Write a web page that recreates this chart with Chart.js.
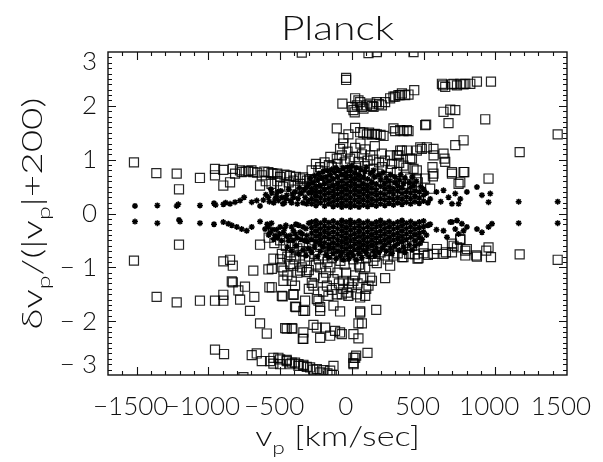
<!DOCTYPE html>
<html>
<head>
<meta charset="utf-8">
<script src="https://cdn.jsdelivr.net/npm/chart.js@4.4.0/dist/chart.umd.min.js"></script>
<style>
  html, body { margin: 0; padding: 0; background: #fff; }
  #lienzo { display: block; }
</style>
</head>
<body>
<canvas id="lienzo" width="603" height="462"></canvas>
<script>
// --- Ejes y etiquetas ---
const rangoX = [-1700, 1500];
const rangoY = [-3, 3];
const etiquetasX = [-1500, -1000, -500, 0, 500, 1000, 1500];
const etiquetasY = [-3, -2, -1, 0, 1, 2, 3];
const pasoMenorX = 100;
const pasoMenorY = 0.1;

// --- Asteriscos: banda superior (x = v_p, y = delta) ---
const asteriscosSuperior = [
  [-1512,0.14],[-1356,0.15],[-1221,0.14],[-1210,0.17],[-1059,0.15],[-961,0.19],[-950,0.16],[-896,0.17],
  [-880,0.20],[-849,0.18],[-814,0.21],[-779,0.24],[-751,0.30],[-698,0.21],[-663,0.24],[-640,0.14],
  [-617,0.25],[-600,0.35],[-582,0.30],[-575,0.22],[-565,0.45],[-558,0.38],[-545,0.20],[-535,0.27],
  [-525,0.32],[-520,0.40],[-512,0.24],[-495,0.42],[-488,0.30],[-480,0.18],[-470,0.20],[-460,0.28],
  [-454,0.34],[-440,0.45],[-430,0.24],[-420,0.20],[-415,0.36],[-407,0.30],[-395,0.40],[-380,0.18],
  [-375,0.28],[-365,0.48],[-361,0.37],[-350,0.38],[-340,0.20],[-330,0.45],[-326,0.30],[-315,0.18],
  [-310,0.50],[-303,0.24],[-300,0.38],
  [-280,0.18],[-280,0.28],[-280,0.38],[-280,0.46],
  [-250,0.15],[-250,0.24],[-250,0.33],[-250,0.42],[-250,0.50],
  [-220,0.20],[-220,0.30],[-220,0.40],[-220,0.52],
  [-190,0.14],[-190,0.25],[-190,0.35],[-190,0.45],[-190,0.56],
  [-160,0.18],[-160,0.28],[-160,0.38],[-160,0.48],[-160,0.60],
  [-130,0.13],[-130,0.22],[-130,0.32],[-130,0.42],[-130,0.52],[-130,0.64],
  [-100,0.16],[-100,0.26],[-100,0.36],[-100,0.46],[-100,0.56],[-100,0.68],
  [-70,0.12],[-70,0.20],[-70,0.30],[-70,0.40],[-70,0.50],[-70,0.60],[-70,0.72],
  [-40,0.15],[-40,0.25],[-40,0.35],[-40,0.45],[-40,0.55],[-40,0.66],[-40,0.76],
  [-10,0.12],[-10,0.20],[-10,0.30],[-10,0.40],[-10,0.50],[-10,0.60],[-10,0.70],[-10,0.80],
  [20,0.15],[20,0.25],[20,0.35],[20,0.45],[20,0.55],[20,0.65],[20,0.75],
  [50,0.12],[50,0.21],[50,0.31],[50,0.41],[50,0.51],[50,0.62],[50,0.72],
  [80,0.16],[80,0.26],[80,0.36],[80,0.46],[80,0.56],[80,0.68],
  [110,0.13],[110,0.22],[110,0.32],[110,0.42],[110,0.52],[110,0.64],
  [140,0.17],[140,0.27],[140,0.37],[140,0.47],[140,0.58],
  [170,0.14],[170,0.24],[170,0.34],[170,0.44],[170,0.55],
  [200,0.18],[200,0.28],[200,0.38],[200,0.50],
  [230,0.15],[230,0.25],[230,0.35],[230,0.46],[230,0.56],
  [260,0.19],[260,0.29],[260,0.40],[260,0.50],
  [290,0.16],[290,0.26],[290,0.36],[290,0.46],
  [320,0.20],[320,0.30],[320,0.42],[320,0.52],
  [350,0.17],[350,0.27],[350,0.37],[350,0.47],
  [380,0.21],[380,0.31],[380,0.41],
  [410,0.18],[410,0.28],[410,0.38],[410,0.48],
  [440,0.22],[440,0.32],[440,0.42],
  [470,0.19],[470,0.29],[470,0.40],
  [500,0.23],[500,0.34],
  [-300,0.55],[-290,0.65],[-270,0.58],[-260,0.70],[-240,0.62],[-230,0.74],[-210,0.66],[-200,0.78],
  [-180,0.68],[-170,0.80],[-150,0.72],[-140,0.82],[-120,0.76],[-110,0.85],[-90,0.80],[-60,0.84],
  [-30,0.86],[0,0.88],[30,0.85],[60,0.82],[90,0.78],[100,0.86],[130,0.74],[150,0.80],[160,0.68],
  [190,0.72],[200,0.62],[220,0.76],[240,0.66],[260,0.60],[270,0.72],[300,0.58],[300,0.68],
  [330,0.62],[340,0.72],[360,0.56],[370,0.66],[400,0.58],[420,0.68],[430,0.52],[450,0.60],
  [480,0.50],[500,0.45],[520,0.38],[530,0.20],
  [546,0.27],[590,0.40],[620,0.22],[639,0.43],[674,0.30],[698,0.18],[721,0.37],[744,0.18],
  [756,0.27],[802,0.40],[872,0.49],[907,0.34],[953,0.21],[965,0.37],[1163,0.22],[1435,0.22]
];

// --- Asteriscos: banda inferior ---
const asteriscosInferior = [
  [-1512,-0.15],[-1356,-0.18],[-1198,-0.15],[-1205,-0.12],[-1059,-0.18],[-961,-0.20],[-896,-0.16],
  [-861,-0.19],[-837,-0.22],[-802,-0.25],[-768,-0.29],[-733,-0.32],[-698,-0.25],[-640,-0.15],
  [-605,-0.29],[-590,-0.20],[-580,-0.25],[-580,-0.40],[-570,-0.35],[-560,-0.18],[-550,-0.30],
  [-545,-0.48],[-535,-0.41],[-525,-0.30],[-520,-0.45],[-505,-0.38],[-500,-0.25],[-490,-0.50],
  [-477,-0.35],[-470,-0.28],[-460,-0.22],[-455,-0.42],[-440,-0.50],[-430,-0.41],[-420,-0.25],
  [-410,-0.50],[-407,-0.32],[-395,-0.38],[-390,-0.20],[-380,-0.45],[-370,-0.22],[-361,-0.35],
  [-355,-0.48],[-345,-0.38],[-340,-0.25],[-330,-0.50],[-320,-0.28],[-314,-0.41],[-310,-0.52],
  [-300,-0.18],
  [-280,-0.16],[-280,-0.26],[-280,-0.36],[-280,-0.48],
  [-250,-0.14],[-250,-0.22],[-250,-0.32],[-250,-0.42],[-250,-0.52],
  [-220,-0.18],[-220,-0.28],[-220,-0.38],[-220,-0.48],[-220,-0.58],
  [-190,-0.13],[-190,-0.23],[-190,-0.33],[-190,-0.43],[-190,-0.54],
  [-160,-0.17],[-160,-0.27],[-160,-0.37],[-160,-0.47],[-160,-0.58],[-160,-0.66],
  [-130,-0.14],[-130,-0.24],[-130,-0.34],[-130,-0.44],[-130,-0.54],[-130,-0.64],
  [-100,-0.18],[-100,-0.28],[-100,-0.38],[-100,-0.48],[-100,-0.58],[-100,-0.70],
  [-70,-0.13],[-70,-0.22],[-70,-0.32],[-70,-0.42],[-70,-0.52],[-70,-0.62],[-70,-0.72],
  [-40,-0.16],[-40,-0.26],[-40,-0.36],[-40,-0.46],[-40,-0.56],[-40,-0.66],
  [-10,-0.13],[-10,-0.21],[-10,-0.31],[-10,-0.41],[-10,-0.51],[-10,-0.61],[-10,-0.72],
  [20,-0.17],[20,-0.27],[20,-0.37],[20,-0.47],[20,-0.57],[20,-0.67],
  [50,-0.14],[50,-0.23],[50,-0.33],[50,-0.43],[50,-0.53],[50,-0.63],
  [80,-0.18],[80,-0.28],[80,-0.38],[80,-0.48],[80,-0.58],[80,-0.68],
  [110,-0.15],[110,-0.24],[110,-0.34],[110,-0.44],[110,-0.54],[110,-0.62],
  [140,-0.19],[140,-0.29],[140,-0.39],[140,-0.49],[140,-0.59],
  [170,-0.16],[170,-0.25],[170,-0.35],[170,-0.45],[170,-0.55],[170,-0.64],
  [200,-0.13],[200,-0.22],[200,-0.32],[200,-0.42],[200,-0.52],
  [230,-0.18],[230,-0.28],[230,-0.38],[230,-0.48],[230,-0.58],
  [260,-0.15],[260,-0.24],[260,-0.34],[260,-0.44],[260,-0.54],
  [290,-0.19],[290,-0.29],[290,-0.39],[290,-0.49],
  [320,-0.16],[320,-0.26],[320,-0.36],[320,-0.46],[320,-0.56],
  [350,-0.13],[350,-0.22],[350,-0.32],[350,-0.42],[350,-0.52],
  [380,-0.18],[380,-0.28],[380,-0.38],[380,-0.48],
  [410,-0.15],[410,-0.24],[410,-0.34],[410,-0.44],
  [440,-0.19],[440,-0.29],[440,-0.39],[440,-0.50],
  [470,-0.16],[470,-0.26],[470,-0.36],[470,-0.45],
  [500,-0.14],[500,-0.24],[500,-0.34],
  [-450,-0.62],[-420,-0.70],[-390,-0.60],[-370,-0.75],[-340,-0.68],[-320,-0.78],[-300,-0.65],
  [-280,-0.72],[-260,-0.62],[-240,-0.80],[-220,-0.70],[-200,-0.62],[-180,-0.76],[-160,-0.82],
  [-130,-0.74],[-110,-0.84],[-80,-0.78],[-60,-0.86],[-30,-0.76],[-20,-0.84],[10,-0.78],[30,-0.86],
  [50,-0.74],[70,-0.82],[100,-0.72],[120,-0.80],[150,-0.70],[160,-0.78],[190,-0.72],[210,-0.64],
  [240,-0.70],[270,-0.64],[280,-0.74],[300,-0.60],[330,-0.68],[360,-0.62],[370,-0.72],[400,-0.58],
  [420,-0.68],[440,-0.60],[470,-0.56],[490,-0.48],[520,-0.40],[530,-0.22],
  [546,-0.20],[590,-0.30],[639,-0.32],[663,-0.44],[686,-0.16],[698,-0.16],[721,-0.29],[733,-0.13],
  [744,-0.38],[767,-0.19],[779,-0.32],[802,-0.25],[872,-0.29],[907,-0.35],[953,-0.25],[977,-0.19],
  [1163,-0.18],[1435,-0.18]
];

// --- Cuadrados: parte superior (y > 0) ---
const cuadradosSuperior = [
  [-1519,0.95],[-1363,0.75],[-1221,0.74],[-1205,0.45],[-1059,0.66],[-954,0.83],[-954,0.71],[-896,0.81],
  [-896,0.52],[-849,0.58],[-830,0.83],[-814,0.74],[-780,0.80],[-768,0.77],[-740,0.78],[-722,0.79],
  [-700,0.80],[-687,0.77],[-660,0.76],[-640,0.52],[-628,0.71],[-610,0.78],[-600,0.60],[-582,0.77],
  [-560,0.75],[-560,0.55],[-547,0.74],[-520,0.74],[-520,0.60],[-500,0.68],[-500,0.52],[-480,0.50],
  [-470,0.72],[-454,0.71],[-440,0.58],[-430,0.70],[-407,0.61],[-400,0.52],[-390,0.68],[-361,0.65],
  [-360,0.55],[-340,0.67],[-330,0.48],[-314,0.61],[-290,0.64],[-280,0.80],[-280,0.50],[-260,0.62],
  [-250,0.92],[-250,0.30],[-240,0.45],[-233,0.80],[-230,0.60],[-221,0.86],[-200,0.70],[-200,0.55],
  [-190,0.95],[-170,0.62],[-160,0.90],[-160,0.50],[-150,1.05],[-150,0.30],[-140,0.86],[-120,0.75],
  [-120,0.58],[-105,1.02],[-100,0.92],[-90,0.45],[-82,1.20],[-80,0.68],[-70,1.08],[-60,1.30],
  [-60,0.55],[-50,0.95],[-50,0.35],[-40,0.80],[-30,1.15],[-30,0.62],[-12,1.02],[0,0.72],[0,0.50],
  [20,1.05],[23,1.22],[30,0.85],[30,0.58],[46,0.96],[50,0.35],[60,0.76],[60,1.30],[60,0.45],
  [70,1.10],[90,0.88],[93,1.19],[100,0.55],[110,0.98],[120,0.70],[128,1.08],[130,0.48],[150,0.82],
  [150,1.00],[150,0.30],[160,1.25],[170,0.60],[180,0.74],[190,0.95],[200,0.45],[209,1.11],[210,0.86],
  [230,0.98],[240,0.68],[250,0.55],[250,0.35],[267,1.08],[270,0.80],[280,0.92],[300,0.50],[314,0.77],
  [314,1.08],[325,1.08],[330,0.94],[337,1.17],[340,0.60],[349,1.17],[350,0.30],[360,0.89],[380,0.85],
  [380,0.55],[384,1.17],[407,0.65],[407,1.02],[419,1.02],[420,0.50],[430,0.83],[453,0.65],[453,0.80],
  [453,1.17],[460,0.58],[477,1.23],[488,1.20],[511,0.65],[523,1.23],[546,0.46],[562,0.86],[565,0.69],
  [569,0.74],[569,1.20],[570,1.08],[639,1.11],[646,1.02],[651,0.96],[698,0.74],[698,0.77],[721,1.27],
  [744,0.55],[756,0.58],[779,0.77],[779,1.36],[784,0.77],[953,0.65],[1170,1.14],[1435,1.47],
  [-105,1.58],[-59,1.40],[-24,1.47],[23,1.59],[58,1.51],[80,1.50],[105,1.47],[120,1.50],[140,1.47],
  [160,1.48],[174,1.47],[200,1.46],[221,1.44],[290,1.58],[302,1.53],[337,1.55],[360,1.53],[384,1.55],
  [395,1.53],[511,1.64],[518,1.65],[674,1.68],[930,1.75],
  [-66,2.04],[0,1.98],[11,1.92],[20,1.88],[23,2.14],[35,2.01],[46,2.10],[58,2.07],[70,1.98],[81,1.95],
  [105,2.01],[128,2.04],[140,2.00],[151,1.98],[174,2.07],[190,2.03],[209,2.01],[232,2.07],[267,2.14],
  [290,2.17],[302,2.17],[325,2.20],[337,2.20],[349,2.23],[372,2.20],[395,2.21],[435,2.29],[639,1.89],
  [686,1.93],[721,1.92],
  [-40,2.52],[-40,2.48],[628,2.41],[635,2.38],[651,2.35],[698,2.40],[709,2.41],[733,2.38],[756,2.41],
  [779,2.40],[791,2.41],[826,2.41],[872,2.45],[970,2.45],
  [-349,2.99],[116,2.98],[174,3.0],[430,3.0]
];

// --- Cuadrados: parte inferior (y < 0) ---
const cuadradosInferior = [
  [-1519,-0.875],[-1205,-0.58],[-640,-0.58],[-896,-0.89],[-849,-0.86],[-830,-0.97],[-687,-1.06],
  [-582,-1.04],[-547,-0.84],[-500,-0.85],[-488,-0.75],[-430,-0.72],[-488,-1.0],[-407,-0.97],
  [-361,-0.78],[-326,-0.875],[-477,-1.25],[-419,-1.25],[-361,-1.06],[-314,-1.09],
  [-1361,-1.55],[-1221,-1.65],[-1059,-1.62],[-954,-1.62],[-896,-1.62],[-896,-1.51],[-837,-1.26],
  [-830,-1.28],[-791,-1.43],[-779,-1.60],[-745,-1.36],[-680,-1.55],[-575,-1.37],[-482,-1.54],
  [-407,-1.51],[-396,-1.73],[-326,-1.81],[-710,-1.81],[-640,-2.04],[-593,-2.23],[-454,-2.14],
  [-414,-2.14],[-338,-2.33],
  [-954,-2.53],[-891,-2.61],[-698,-2.63],[-663,-2.60],[-628,-2.74],[-570,-2.74],[-547,-2.79],
  [-512,-2.68],[-500,-2.80],[-454,-2.72],[-430,-2.80],[-396,-2.77],[-372,-2.83],[-338,-2.81],
  [-314,-2.85],[-756,-3.04],[-547,-2.68],[-500,-2.71],[-454,-2.74],[-419,-2.77],[-372,-2.80],
  [-338,-2.83],[-291,-2.86],[-270,-2.90],[-244,-2.89],[-220,-2.95],[-198,-2.91],[-170,-2.97],
  [-151,-2.92],[-140,-3.0],[-128,-2.83],
  [11,-2.68],[30,-2.64],[109,-2.59],[11,-2.78],[23,-2.68],[12,-2.80],[46,-2.32],[46,-2.04],
  [70,-2.04],[58,-1.84],[170,-1.79],[11,-2.24],[-82,-2.21],[-70,-2.24],[-117,-2.18],[-151,-2.27],
  [-221,-2.31],[-268,-2.07],[-186,-2.12],[-338,-2.21],[-342,-2.33],[-465,-2.13],[-419,-2.13],
  [-244,-2.12],
  [-488,-1.53],[-389,-1.74],[-338,-1.81],[-221,-1.81],[-128,-1.71],[-82,-1.82],[58,-1.82],
  [-221,-1.74],[-407,-1.50],[-396,-1.34],[-326,-1.62],[-279,-1.29],[-268,-1.34],[-244,-1.59],
  [-233,-1.62],[-174,-1.34],[-163,-1.53],[-128,-1.22],[-105,-1.50],[-70,-1.50],[-35,-1.47],
  [-24,-1.53],[0,-1.37],[35,-1.50],[58,-1.56],[93,-1.53],[116,-1.34],[128,-1.19],[232,-1.20],
  [267,-0.97],[174,-0.92],[23,-1.15],[58,-1.0],[93,-1.0],[140,-1.25],[-477,-1.06],[-558,-1.03],
  [-558,-1.37],[-430,-0.94],[-349,-1.0],
  [-450,-1.15],[-380,-1.10],[-300,-1.05],[-300,-1.40],[-260,-1.15],[-220,-1.00],[-200,-1.20],
  [-200,-1.45],[-180,-1.10],[-150,-1.00],[-140,-1.42],[-100,-1.10],[-90,-1.30],[-60,-1.25],
  [-60,-1.40],[-40,-1.10],[-20,-1.30],[10,-1.25],[40,-1.30],[80,-1.20],[100,-1.40],
  [-300,-0.80],[-260,-0.75],[-230,-0.85],[-200,-0.78],[-170,-0.90],[-140,-0.82],[-110,-0.76],
  [-80,-0.88],[-50,-0.80],[-20,-0.72],[10,-0.85],[40,-0.78],[70,-0.70],[100,-0.82],[130,-0.75],
  [160,-0.80],[200,-0.72],[230,-0.78],[260,-0.70],[290,-0.78],[320,-0.74],[351,-0.81],[360,-0.81],
  [400,-0.75],[440,-0.76],[458,-0.84],[465,-0.83],[500,-0.74],[530,-0.77],[570,-0.75],[593,-0.66],
  [639,-0.75],[656,-0.72],[698,-0.72],[698,-0.56],[709,-0.60],[733,-0.63],[756,-0.47],[756,-0.49],
  [791,-0.78],[791,-0.69],[802,-0.66],[867,-0.78],[872,-0.80],[937,-0.69],[953,-0.63],[970,-0.81],
  [1170,-0.76],[1435,-0.86],
  [-580,-0.45],[-540,-0.55],[-500,-0.50],[-460,-0.60],[-450,-0.80],[-420,-0.55],[-400,-0.85],
  [-380,-0.65],[-350,-0.70],[-340,-0.60],[-300,-0.55],[-260,-0.50],[-250,-0.95],[-220,-0.62],
  [-200,-0.35],[-180,-0.55],[-150,-0.70],[-140,-0.65],[-100,-0.50],[-60,-0.60],[-50,-0.95],
  [-30,-0.35],[-20,-0.55],[20,-0.62],[50,-0.95],[60,-0.50],[80,-0.35],[100,-0.60],[140,-0.52],
  [150,-0.88],[180,-0.62],[200,-0.30],[220,-0.50],[250,-0.85],[260,-0.58],[300,-0.50],[340,-0.62],
  [380,-0.55],[420,-0.60],[460,-0.50],[500,-0.62]
];

const aPuntos = pares => pares.map(p => ({ x: p[0], y: p[1] }));

// --- Fuentes (parecidas a la Hershey de IDL) ---
const fuente = (tam) => `300 ${tam}px Lato, "DejaVu Sans", sans-serif`;

// Dibuja un texto con trozos en subindice, centrado en (x, y) y estirado a lo ancho
function textoConSubindices(ctx, partes, x, y, tam, estirar) {
  const tamSub = Math.round(tam * 0.65);
  let total = 0;
  partes.forEach(([t, sub]) => {
    ctx.font = fuente(sub ? tamSub : tam);
    total += ctx.measureText(t).width;
  });
  ctx.save();
  ctx.translate(x, y);
  ctx.scale(estirar, 1);
  let cx = -total / 2;
  partes.forEach(([t, sub]) => {
    ctx.font = fuente(sub ? tamSub : tam);
    ctx.fillText(t, cx, sub ? tam * 0.28 : 0);
    cx += ctx.measureText(t).width;
  });
  ctx.restore();
}

// --- Plugin: caja con marcas hacia dentro, etiquetas y titulos ---
const pluginEjesIDL = {
  id: 'ejesIDL',
  afterDatasetsDraw(chart) {
    const { ctx, chartArea: a, scales: { x, y } } = chart;
    ctx.save();
    ctx.strokeStyle = '#111';
    ctx.lineWidth = 1.4;
    ctx.strokeRect(a.left, a.top, a.right - a.left, a.bottom - a.top);

    ctx.lineWidth = 1.1;
    ctx.beginPath();
    for (let v = rangoX[0] + pasoMenorX; v < rangoX[1]; v += pasoMenorX) {
      const px = Math.round(x.getPixelForValue(v)) + 0.5;
      const largo = v % 500 === 0 ? 8 : 4;
      ctx.moveTo(px, a.bottom); ctx.lineTo(px, a.bottom - largo);
      ctx.moveTo(px, a.top); ctx.lineTo(px, a.top + largo);
    }
    const nMenor = Math.round((rangoY[1] - rangoY[0]) / pasoMenorY);
    for (let i = 1; i < nMenor; i++) {
      const v = rangoY[0] + i * pasoMenorY;
      const py = Math.round(y.getPixelForValue(v)) + 0.5;
      const largo = i % 10 === 0 ? 8 : 4;
      ctx.moveTo(a.left, py); ctx.lineTo(a.left + largo, py);
      ctx.moveTo(a.right, py); ctx.lineTo(a.right - largo, py);
    }
    ctx.stroke();

    // etiquetas de las marcas
    ctx.fillStyle = '#111';
    ctx.font = fuente(26);
    ctx.textAlign = 'center';
    ctx.textBaseline = 'middle';
    etiquetasX.forEach(v => {
      const txt = (v < 0 ? '\u2212' : '') + Math.abs(v);
      ctx.fillText(txt, x.getPixelForValue(v) - 6, a.bottom + 32);
    });
    ctx.textAlign = 'right';
    etiquetasY.forEach(v => {
      const txt = (v < 0 ? '\u2212 ' : '') + Math.abs(v);
      let py = y.getPixelForValue(v);
      py = Math.min(Math.max(py, a.top + 10), a.bottom - 10);
      ctx.fillText(txt, a.left - 11, py);
    });

    // titulo
    ctx.textAlign = 'left';
    ctx.textBaseline = 'alphabetic';
    textoConSubindices(ctx, [['Planck', false]], (a.left + a.right) / 2, 40, 34, 1.2);

    // titulo eje X
    textoConSubindices(ctx, [['v', false], ['p', true], [' [km/sec]', false]], (a.left + a.right) / 2, 446, 27, 1.27);

    // titulo eje Y (rotado)
    ctx.translate(42, (a.top + a.bottom) / 2);
    ctx.rotate(-Math.PI / 2);
    textoConSubindices(ctx, [['\u03b4v', false], ['p', true], ['/(|v', false], ['p', true], ['|+200)', false]], 0, 0, 28, 1.38);
    ctx.restore();
  }
};

// --- Grafica ---
const ctxLienzo = document.getElementById('lienzo').getContext('2d');
const grafica = new Chart(ctxLienzo, {
  type: 'scatter',
  data: {
    datasets: [
      {
        label: 'asteriscos',
        data: aPuntos(asteriscosSuperior.concat(asteriscosInferior)),
        pointStyle: 'star',
        radius: 3,
        borderWidth: 1.5,
        borderColor: '#000',
        backgroundColor: '#000',
        clip: 0
      },
      {
        label: 'cuadrados',
        data: aPuntos(cuadradosSuperior.concat(cuadradosInferior)),
        pointStyle: 'rect',
        radius: 6.4,
        borderWidth: 1.2,
        borderColor: 'rgba(0,0,0,0.85)',
        backgroundColor: 'rgba(0,0,0,0)',
        clip: 0
      }
    ]
  },
  options: {
    responsive: false,
    animation: false,
    events: [],
    devicePixelRatio: 1,
    layout: { padding: { left: 108, right: 36, top: 52, bottom: 87 } },
    scales: {
      x: { type: 'linear', min: rangoX[0], max: rangoX[1], display: false },
      y: { type: 'linear', min: rangoY[0], max: rangoY[1], display: false }
    },
    plugins: {
      legend: { display: false },
      tooltip: { enabled: false },
      title: { display: false }
    }
  },
  plugins: [pluginEjesIDL]
});
</script>
</body>
</html>
